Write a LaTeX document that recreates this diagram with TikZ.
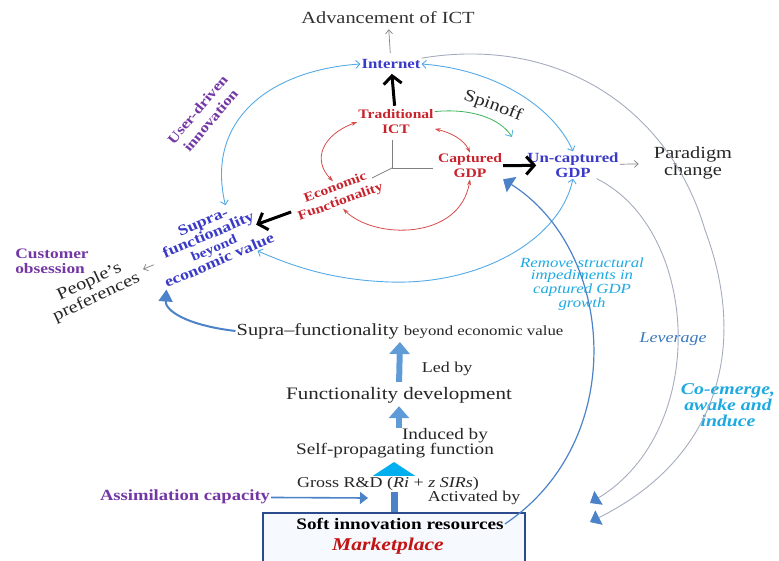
\documentclass[tikz,border=0pt]{standalone}
\usepackage{fontspec}
\setmainfont{Liberation Serif}[FakeStretch=1.2]
\usepackage{tikz}
\usetikzlibrary{arrows.meta}
\usetikzlibrary{positioning}
\definecolor{netblue}{RGB}{58, 58, 200}
\definecolor{ictred}{RGB}{200, 35, 45}
\definecolor{custpurple}{RGB}{115, 55, 165}
\definecolor{linkred}{RGB}{215, 75, 75}
\definecolor{skyblue}{RGB}{85, 170, 230}
\definecolor{arcgray}{RGB}{165, 172, 190}
\definecolor{steelblue}{RGB}{75, 130, 200}
\definecolor{blockblue}{RGB}{95, 155, 215}
\definecolor{headcyan}{RGB}{0, 175, 240}
\definecolor{labelcyan}{RGB}{30, 170, 225}
\definecolor{levblue}{RGB}{55, 120, 190}
\definecolor{boxnavy}{RGB}{45, 75, 140}
\definecolor{boxfill}{RGB}{246, 249, 254}
\definecolor{markred}{RGB}{195, 20, 20}
\definecolor{spingreen}{RGB}{60, 180, 90}
\tikzset{
  lbl/.style      = {inner sep=1pt, align=center},
  netlbl/.style   = {lbl, text=netblue, font=\fontsize{14}{15}\selectfont\bfseries},
  redlbl/.style   = {lbl, text=ictred, font=\fontsize{13}{15}\selectfont\bfseries},
  purplbl/.style  = {lbl, text=custpurple, font=\fontsize{14.5}{15}\selectfont\bfseries},
  darklbl/.style  = {lbl, text=black!85, font=\fontsize{16}{17}\selectfont},
  cyanlbl/.style  = {lbl, text=labelcyan, font=\fontsize{14}{12.5}\selectfont\itshape},
  thinarrow/.style= {-{Straight Barb[length=4pt,width=7pt]}, draw=gray, line width=0.7pt},
  bigarrow/.style = {-{Straight Barb[length=8pt,width=18pt]}, line width=3pt, draw=black},
  redlink/.style  = {{Stealth[length=6pt,width=4pt]}-{Stealth[length=6pt,width=4pt]}, draw=linkred, line width=0.8pt},
  skylink/.style  = {{Straight Barb[length=4pt,width=8pt]}-{Straight Barb[length=4pt,width=8pt]}, draw=skyblue, line width=0.9pt},
  graylink/.style = {-{Triangle[length=10pt,width=16pt,color=steelblue]}, draw=arcgray, line width=0.9pt},
  blockarrow/.style = {-{Triangle[length=12pt,width=20pt]}, line width=6pt, draw=blockblue},
}

\begin{document}
\begin{tikzpicture}[x=1pt, y=-1pt]
            \clip (0,0) rectangle (779,560);
            % Bottom box
            \node[draw=boxnavy, line width=2pt, fill=boxfill, minimum width=262pt, minimum height=70pt,
                  anchor=north, inner sep=0pt] (box) at (394,512) {};
            % Arrows up the middle
            \draw[-{Triangle[length=14pt,width=42pt,color=headcyan]}, line width=7pt, draw=steelblue]
                 (box.north) -- (394,462);
            % Core labels
            \node[darklbl, text=black!80, font=\fontsize{17}{17}\selectfont] (adv)      at (388, 18) {Advancement of ICT};
            \node[netlbl]                                                    (net)      at (391, 64) {Internet};
            \node[redlbl]                                                    (trad)     at (396,122) {Traditional\\ICT};
            \node[redlbl, rotate=20]                                         (econ)     at (338,195) {Economic\\Functionality};
            \node[redlbl]                                                    (capt)     at (470,166) {Captured\\GDP};
            \node[netlbl]                                                    (uncapt)   at (573,165) {Un-captured\\GDP};
            \node[darklbl, font=\fontsize{17}{15}\selectfont]                (paradigm) at (693,163) {Paradigm\\change};
            \node[darklbl, rotate=-20, font=\fontsize{17}{16}\selectfont]    (spin)     at (493,106) {Spinoff};
            \node[netlbl, rotate=23, font=\fontsize{15}{14}\selectfont\bfseries]
                                                                             (supra)    at (211,241) {Supra-\\functionality\\\fontsize{13}{12}\selectfont beyond\\economic value};
            \node[darklbl, rotate=25, font=\fontsize{17}{17}\selectfont]     (people)   at ( 93,290) {People's\\preferences};
            \node[purplbl, align=left]                                       (cust)     at ( 52,261) {Customer\\obsession};
            \node[purplbl, rotate=50, font=\fontsize{14}{17}\selectfont\bfseries]
                                                                             (user)     at (204,115) {User-driven\\innovation};
            % Middle column
            \node[darklbl, font=\fontsize{17}{17}\selectfont]                (supraval) at (400,331) {Supra--functionality {\fontsize{14}{14}\selectfont beyond economic value}};
            \node[darklbl, font=\fontsize{15}{15}\selectfont]                (ledby)    at (447,369) {Led by};
            \node[darklbl, font=\fontsize{17.5}{17}\selectfont]              (funcdev)  at (399,395) {Functionality development};
            \node[darklbl]                                                   (induced)  at (445,436) {Induced by};
            \node[darklbl]                                                   (selfprop) at (395,451) {Self-propagating function};
            \node[darklbl, fill=white, font=\fontsize{15}{15}\selectfont]    (gross)    at (388,484) {Gross R\&D (\textit{Ri} + \textit{z SIRs})};
            \node[darklbl, font=\fontsize{15}{15}\selectfont]                (activ)    at (474,498) {Activated by};
            \node[purplbl, font=\fontsize{15.5}{15}\selectfont\bfseries]     (assim)    at (185,497) {Assimilation capacity};
            \node[lbl, font=\fontsize{16}{16}\selectfont\bfseries]           (soft)     at (400,524) {Soft innovation resources};
            \node[lbl, text=markred, font=\fontsize{18}{18}\selectfont\bfseries\itshape]
                                                                             (market)   at (388,546) {Marketplace};
            % Side labels
            \node[cyanlbl]                                                   (remove)   at (582,284) {Remove structural\\impediments in\\captured GDP\\growth};
            \node[lbl, text=levblue, font=\fontsize{15}{15}\selectfont\itshape]
                                                                             (lev)      at (673,339) {Leverage};
            \node[lbl, text=labelcyan, font=\fontsize{16.5}{16}\selectfont\bfseries\itshape]
                                                                             (coem)     at (728,405) {Co-emerge,\\awake and\\induce};
            % Free ends
            \coordinate (spinend)  at (512,137);
            \coordinate (levend)   at (590,503);
            \coordinate (coend)    at (590,522);
            \coordinate (assimend) at (368,498);
            % Reference axes
            \draw[gray, line width=0.8pt] (392,140) -- (392,168) -- (433,168);
            \draw[gray, line width=0.8pt] (392,168) -- (372,178);
            % Straight links
            \draw[thinarrow, shorten <=5pt, shorten >=4pt]   (net) -- (adv);
            \draw[bigarrow, shorten <=3pt, shorten >=4pt]    (trad) -- (net);
            \draw[bigarrow, shorten >=-10pt]                 (capt) -- (uncapt);
            \draw[bigarrow, shorten <=4pt, shorten >=-12pt]  (econ) -- (supra);
            \draw[thinarrow, shorten >=14pt]                 (uncapt) -- (paradigm);
            \draw[thinarrow, shorten <=2pt, shorten >=6pt]   (supra) -- (people);
            \draw[-{Triangle[length=8pt,width=12pt]}, draw=steelblue, line width=1.6pt] (assim) -- (assimend);
            % Red loop
            \draw[redlink] (trad.-10) .. controls (452,133) and (464,140) .. (capt.north);
            \draw[redlink] (trad.west) .. controls (322,135) and (312,160) .. (econ.north);
            \draw[redlink] (econ.south) .. controls (375,240) and (460,240) .. (capt.south);
            % Spinoff
            \draw[draw=spingreen, line width=0.8pt, -{Straight Barb[length=5pt,width=9pt,color=skyblue]}]
                 (trad.15) .. controls (470,108) and (500,118) .. (spinend);
            % Sky-blue circle
            \draw[skylink] (supra.45) .. controls (205,120) and (270,70) .. (net.west);
            \draw[skylink] (net.east) .. controls (500,70) and (555,110) .. (uncapt.north);
            \draw[skylink] (uncapt.south) .. controls (560,240) and (480,285) .. (390,282)
                 .. controls (330,280) and (290,265) .. (supra.-35);
            % Back to captured GDP
            \draw[-{Triangle[length=10pt,width=18pt]}, draw=steelblue, line width=1.2pt]
                 (soft.east) .. controls (630,440) and (615,250) .. (capt.south east);
            % Grey outer arcs
            \draw[graylink] (uncapt.-30) .. controls (700,230) and (710,430) .. (levend);
            \draw[graylink] (net.north east) .. controls (560,35) and (670,110) .. (705,230)
                 .. controls (750,350) and (715,460) .. (coend);
            % Supra-functionality feedback
            \draw[-{Triangle[length=12pt,width=14pt]}, draw=steelblue, line width=2pt]
                 (supraval.west) .. controls (185,325) and (165,310) .. (supra.south west);
            % Block arrows
            \draw[blockarrow, shorten <=4pt, shorten >=2pt]  (funcdev.north) -- (supraval.south);
            \draw[blockarrow, shorten <=14pt, shorten >=2pt] (selfprop.north -| funcdev.south) -- (funcdev.south);
        \end{tikzpicture}
\end{document}
